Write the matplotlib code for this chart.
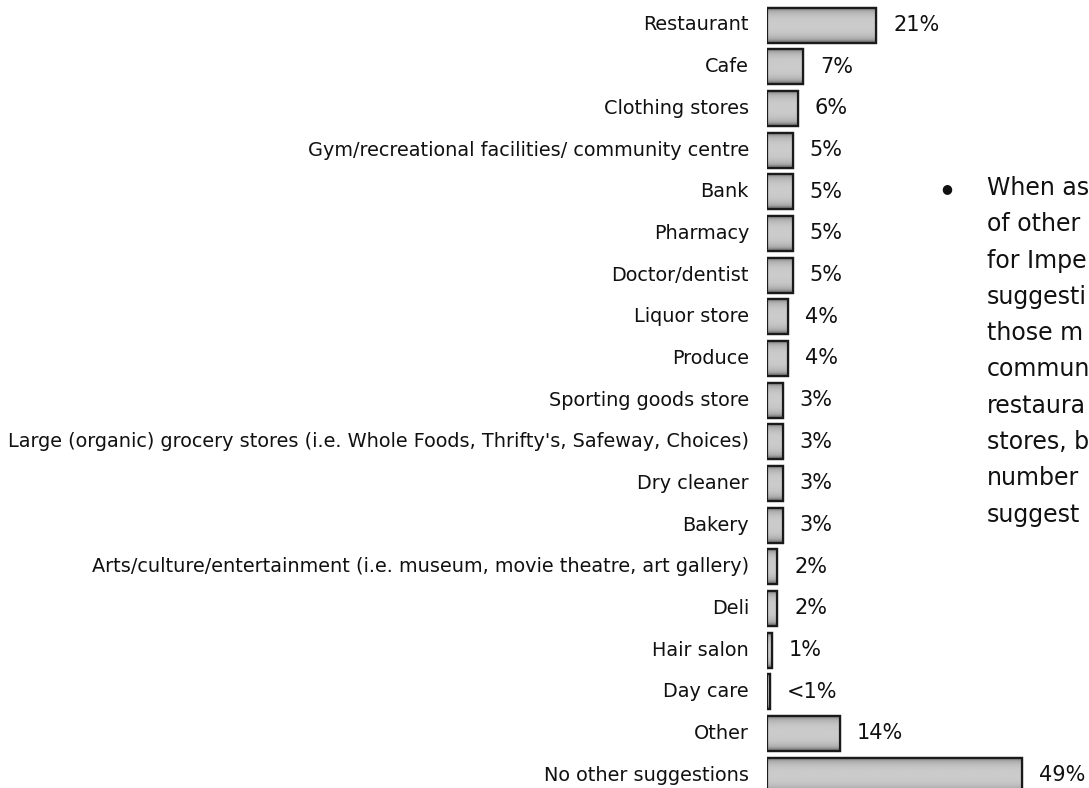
import numpy as np
import matplotlib
matplotlib.use("Agg")
from matplotlib import pyplot as plt
from matplotlib.colors import LinearSegmentedColormap

categories = [
    "Restaurant",
    "Cafe",
    "Clothing stores",
    "Gym/recreational facilities/ community centre",
    "Bank",
    "Pharmacy",
    "Doctor/dentist",
    "Liquor store",
    "Produce",
    "Sporting goods store",
    "Large (organic) grocery stores (i.e. Whole Foods, Thrifty's, Safeway, Choices)",
    "Dry cleaner",
    "Bakery",
    "Arts/culture/entertainment (i.e. museum, movie theatre, art gallery)",
    "Deli",
    "Hair salon",
    "Day care",
    "Other",
    "No other suggestions",
]
values = [21, 7, 6, 5, 5, 5, 5, 4, 4, 3, 3, 3, 3, 2, 2, 1, 0.5, 14, 49]
value_labels = ["21%", "7%", "6%", "5%", "5%", "5%", "5%", "4%", "4%", "3%",
                "3%", "3%", "3%", "2%", "2%", "1%", "<1%", "14%", "49%"]

# side note as it shows, running into the page edge
note_lines = ["When as", "of other", "for Impe", "suggesti", "those m",
              "commun", "restaura", "stores, b", "number", "suggest"]

plt.rcParams['font.family'] = ['DejaVu Sans']

fig = plt.figure(figsize=(10.89, 7.88), dpi=100, facecolor='white')
ax = fig.add_axes([767 / 1089, 0, 322 / 1089, 1])
ax.set_xlim(0, 322 / 5.21)
ax.set_ylim(18.31, -0.6)
ax.axis('off')

y = np.arange(len(categories))
bars = ax.barh(y, values, height=0.84, color='#c4c4c4',
               edgecolor='#1a1a1a', linewidth=1.6, zorder=2)

# grey shading inside each bar, darker towards the rim
grey = LinearSegmentedColormap.from_list('bar_grey', ['#cbcbcb', '#ababab', '#666666'])
shade = np.abs(np.linspace(-1, 1, 32))[:, None] ** 3 * np.ones((1, 8))
for bar in bars:
    x0, y0 = bar.get_x(), bar.get_y()
    w, h = bar.get_width(), bar.get_height()
    im = ax.imshow(shade, cmap=grey, vmin=0, vmax=1, aspect='auto',
                   extent=(x0, x0 + w, y0 + h, y0), zorder=2.5,
                   interpolation='bilinear')
    im.set_clip_path(bar)
    ax.barh(bar.get_y() + h / 2, w, height=h, fill=False,
            edgecolor='#1a1a1a', linewidth=1.6, zorder=3)

for yi, v, lab in zip(y, values, value_labels):
    ax.annotate(lab, (v, yi), xytext=(12, 0), textcoords='offset points',
                va='center', ha='left', fontsize=15, color='#111111')

for yi, cat in zip(y, categories):
    fig.text(749 / 1089, 1 - (25 + yi * 41.67) / 788, cat, ha='right',
             va='center', fontsize=13.9, color='#111111')

fig.text(947 / 1089, 1 - 189 / 788, u"\u25CF", ha='center', va='center',
         fontsize=9, color='#111111')
for i, line in enumerate(note_lines):
    fig.text(987 / 1089, 1 - (188 + i * 36.3) / 788, line, ha='left',
             va='center', fontsize=17, color='#111111')

fig.savefig('out.png', dpi=100, facecolor=fig.get_facecolor())
